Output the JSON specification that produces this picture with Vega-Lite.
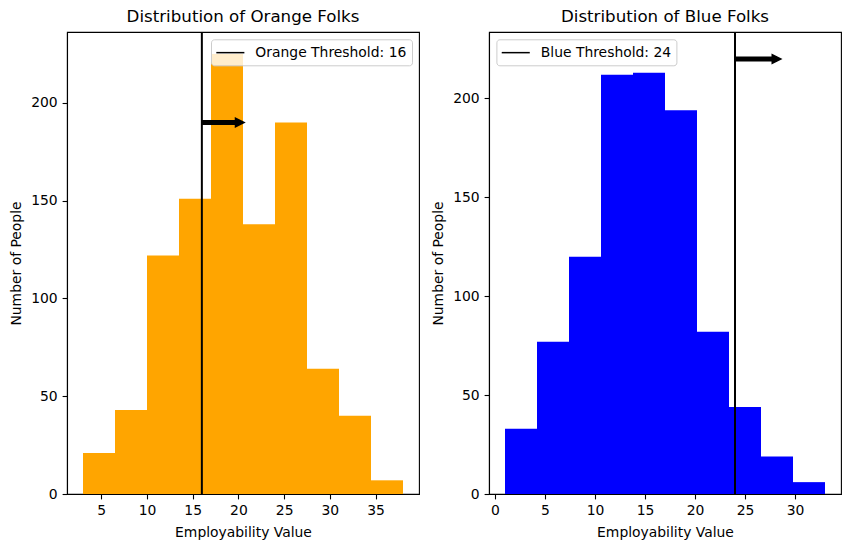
{
  "$schema": "https://vega.github.io/schema/vega-lite/v6.json",
  "padding": {"left": 9, "top": 8, "right": 5, "bottom": 5},
  "datasets": {
    "orange": [
      {"start": 3, "end": 6.5, "count": 21},
      {"start": 6.5, "end": 10, "count": 43},
      {"start": 10, "end": 13.5, "count": 122},
      {"start": 13.5, "end": 17, "count": 151},
      {"start": 17, "end": 20.5, "count": 225},
      {"start": 20.5, "end": 24, "count": 138},
      {"start": 24, "end": 27.5, "count": 190},
      {"start": 27.5, "end": 31, "count": 64},
      {"start": 31, "end": 34.5, "count": 40},
      {"start": 34.5, "end": 38, "count": 7}
    ],
    "blue": [
      {"start": 1, "end": 4.2, "count": 33},
      {"start": 4.2, "end": 7.4, "count": 77},
      {"start": 7.4, "end": 10.6, "count": 120},
      {"start": 10.6, "end": 13.8, "count": 212},
      {"start": 13.8, "end": 17, "count": 213},
      {"start": 17, "end": 20.2, "count": 194},
      {"start": 20.2, "end": 23.4, "count": 82},
      {"start": 23.4, "end": 26.6, "count": 44},
      {"start": 26.6, "end": 29.8, "count": 19},
      {"start": 29.8, "end": 33, "count": 6}
    ],
    "orangeThr": [{"x": 16, "label": "Orange Threshold: 16"}],
    "blueThr": [{"x": 24, "label": "Blue Threshold: 24"}],
    "orangeArrow": [{"x": 16, "x2": 20.2, "y": 190}],
    "blueArrow": [{"x": 24, "x2": 28.2, "y": 220}]
  },
  "spacing": 70,
  "bounds": "flush",
  "resolve": {
    "scale": {"x": "independent", "y": "independent", "color": "independent"},
    "legend": {"color": "independent"}
  },
  "hconcat": [
    {
      "width": 352,
      "height": 462,
      "title": "Distribution of Orange Folks",
      "layer": [
        {
          "data": {"name": "orange"},
          "mark": {"type": "rect", "color": "#FFA500"},
          "encoding": {
            "x": {"field": "start", "type": "quantitative", "scale": {"domain": [1.25, 39.75], "nice": false, "zero": false}, "axis": {"values": [5, 10, 15, 20, 25, 30, 35], "title": "Employability Value"}},
            "x2": {"field": "end"},
            "y": {"field": "count", "type": "quantitative", "scale": {"domain": [0, 236.25], "nice": false}, "axis": {"values": [0, 50, 100, 150, 200], "title": "Number of People"}},
            "y2": {"datum": 0}
          }
        },
        {
          "data": {"name": "orangeThr"},
          "mark": {"type": "rule", "strokeWidth": 2},
          "encoding": {
            "x": {"field": "x", "type": "quantitative"},
            "color": {"field": "label", "type": "nominal", "scale": {"range": ["black"]},
              "legend": {"orient": "none", "legendX": 144, "legendY": 7.3}}
          }
        },
        {
          "data": {"name": "orangeArrow"},
          "mark": {"type": "rule", "strokeWidth": 5, "color": "black"},
          "encoding": {
            "x": {"field": "x", "type": "quantitative"},
            "x2": {"field": "x2"},
            "y": {"field": "y", "type": "quantitative"}
          }
        },
        {
          "data": {"name": "orangeArrow"},
          "mark": {"type": "point", "shape": "M-1,-1L1,0L-1,1Z", "filled": true, "color": "black", "size": 121, "opacity": 1},
          "encoding": {
            "x": {"field": "x2", "type": "quantitative"},
            "y": {"field": "y", "type": "quantitative"}
          }
        }
      ]
    },
    {
      "width": 352,
      "height": 462,
      "title": "Distribution of Blue Folks",
      "layer": [
        {
          "data": {"name": "blue"},
          "mark": {"type": "rect", "color": "#0000FF"},
          "encoding": {
            "x": {"field": "start", "type": "quantitative", "scale": {"domain": [-0.6, 34.6], "nice": false, "zero": false}, "axis": {"values": [0, 5, 10, 15, 20, 25, 30], "title": "Employability Value"}},
            "x2": {"field": "end"},
            "y": {"field": "count", "type": "quantitative", "scale": {"domain": [0, 233.6], "nice": false}, "axis": {"values": [0, 50, 100, 150, 200], "title": "Number of People"}},
            "y2": {"datum": 0}
          }
        },
        {
          "data": {"name": "blueThr"},
          "mark": {"type": "rule", "strokeWidth": 2},
          "encoding": {
            "x": {"field": "x", "type": "quantitative"},
            "color": {"field": "label", "type": "nominal", "scale": {"range": ["black"]},
              "legend": {"orient": "none", "legendX": 7.4, "legendY": 7.3}}
          }
        },
        {
          "data": {"name": "blueArrow"},
          "mark": {"type": "rule", "strokeWidth": 5, "color": "black"},
          "encoding": {
            "x": {"field": "x", "type": "quantitative"},
            "x2": {"field": "x2"},
            "y": {"field": "y", "type": "quantitative"}
          }
        },
        {
          "data": {"name": "blueArrow"},
          "mark": {"type": "point", "shape": "M-1,-1L1,0L-1,1Z", "filled": true, "color": "black", "size": 121, "opacity": 1},
          "encoding": {
            "x": {"field": "x2", "type": "quantitative"},
            "y": {"field": "y", "type": "quantitative"}
          }
        }
      ]
    }
  ],
  "config": {
    "font": "DejaVu Sans",
    "view": {"stroke": "black", "strokeWidth": 1.1},
    "axis": {
      "grid": false,
      "domainColor": "black",
      "domainWidth": 1.1,
      "tickColor": "black",
      "tickSize": 4.9,
      "tickWidth": 1.1,
      "labelFont": "DejaVu Sans",
      "labelFontSize": 13.9,
      "labelColor": "black",
      "labelPadding": 4.9,
      "titleFont": "DejaVu Sans",
      "titleFontSize": 13.9,
      "titleFontWeight": "normal",
      "titleColor": "black"
    },
    "axisY": {"titlePadding": 7},
    "axisX": {"titlePadding": 8},
    "title": {"font": "DejaVu Sans", "fontSize": 16.67, "fontWeight": "normal", "color": "black", "offset": 5.5, "baseline": "alphabetic"},
    "legend": {
      "title": null,
      "fillColor": "rgba(255,255,255,0.8)",
      "strokeColor": "#cccccc",
      "cornerRadius": 3,
      "padding": 4.85,
      "symbolType": "M-1.87,0L1.87,0",
      "symbolSize": 225,
      "symbolOffset": 6,
      "symbolStrokeWidth": 1.5,
      "symbolStrokeColor": "black",
      "labelFont": "DejaVu Sans",
      "labelFontSize": 13.9,
      "labelColor": "black",
      "labelOffset": 16.5
    }
  }
}
